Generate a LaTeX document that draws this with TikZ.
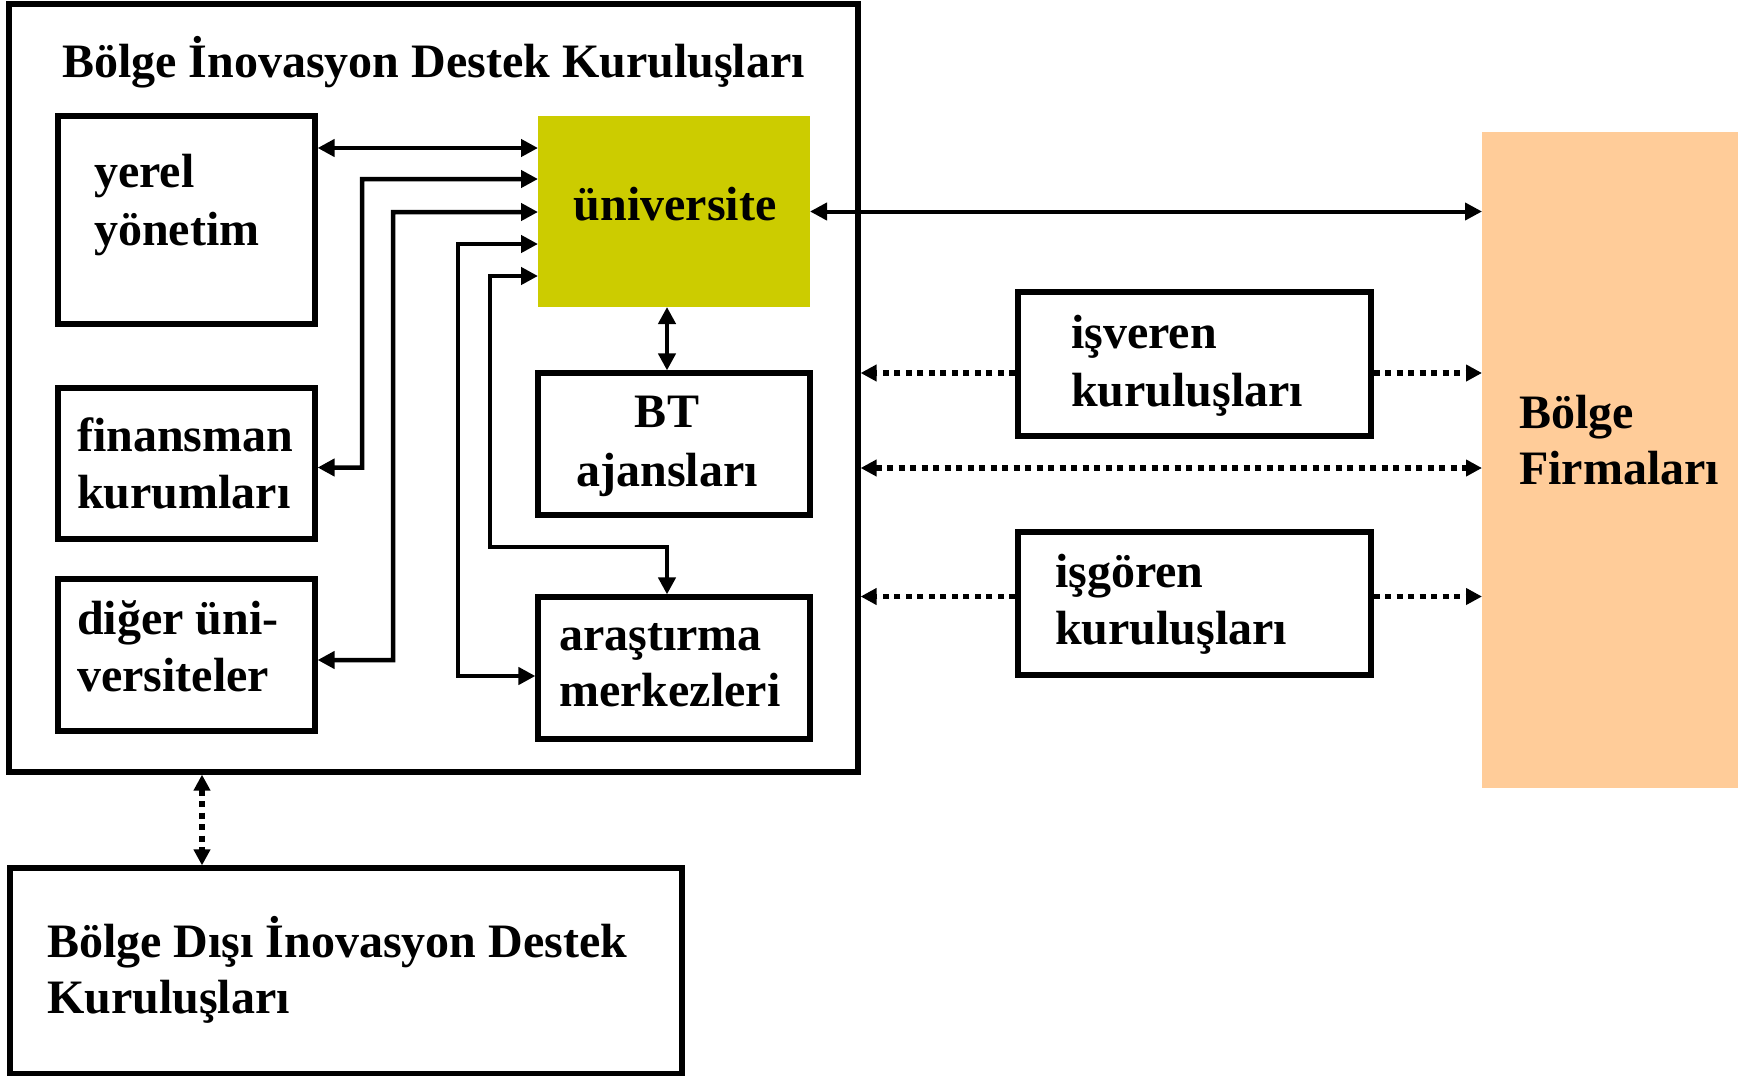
\documentclass[tikz,border=0pt]{standalone}
\usepackage{fontspec}
\setmainfont{Liberation Serif}
\usetikzlibrary{arrows.meta,calc}
\definecolor{unigreen}{HTML}{CCCC00}
\definecolor{firmorange}{HTML}{FFCC99}
\begin{document}
\begin{tikzpicture}[x=1bp,y=-1bp,
  box/.style={draw, line width=5.2bp, inner sep=0pt},
  fillbox/.style={inner sep=0pt, outer sep=0pt},
  txt/.style={font=\fontsize{48bp}{57.6bp}\selectfont\bfseries, inner sep=0pt, anchor=base west},
  conn/.style={line width=4.5bp, {Triangle[length=17bp,width=17bp]}-{Triangle[length=17bp,width=17bp]}},
  dots/.style={line width=5.5bp, dash pattern=on 6bp off 5.5bp},
  dotboth/.style={dots, {Triangle[length=16bp,width=16bp]}-{Triangle[length=16bp,width=16bp]}},
  dotto/.style={dots, -{Triangle[length=16bp,width=16bp]}}]
\useasboundingbox (0,0) rectangle (1742,1075);

% regional firms
\node[fillbox, fill=firmorange, minimum width=256bp, minimum height=656bp] (firma) at (1610,460) {};

% regional innovation support institutions
\node[box, minimum width=849bp, minimum height=768bp] (outer) at (433.5,388) {};
\node[box, minimum width=257bp, minimum height=208bp] (yerel) at (186.5,220) {};
\node[box, minimum width=257bp, minimum height=151bp] (fin) at (186.5,463.5) {};
\node[box, minimum width=257bp, minimum height=152bp] (diger) at (186.5,655) {};
\node[fillbox, fill=unigreen, minimum width=272bp, minimum height=191bp] (uni) at (674,211.5) {};
\node[box, minimum width=272bp, minimum height=142bp] (bt) at (674,444) {};
\node[box, minimum width=272bp, minimum height=142bp] (ars) at (674,668) {};

% employer / employee organisations
\node[box, minimum width=353bp, minimum height=144bp] (isv) at (1194.5,364) {};
\node[box, minimum width=353bp, minimum height=143bp] (isg) at (1194.5,603.5) {};

% external support institutions
\node[box, minimum width=672bp, minimum height=206bp] (disi) at (346,971) {};

% labels
\node[txt] (title) at (62,77) {Bölge İnovasyon Destek Kuruluşları};
\node[txt] (yerel1) at (94,187) {yerel};
\node[txt] (yerel2) at (94,245) {yönetim};
\node[txt] (fin1) at (77,451) {finansman};
\node[txt] (fin2) at (77,508) {kurumları};
\node[txt] (dig1) at (77,634) {diğer üni-};
\node[txt] (dig2) at (77,691) {versiteler};
\node[txt, anchor=base] (uni1) at (675,220) {üniversite};
\node[txt, anchor=base] (bt1) at (667,427) {BT};
\node[txt, anchor=base] (bt2) at (667,486) {ajansları};
\node[txt] (ars1) at (559,650) {araştırma};
\node[txt] (ars2) at (559,706) {merkezleri};
\node[txt] (isv1) at (1071,348) {işveren};
\node[txt] (isv2) at (1071,406) {kuruluşları};
\node[txt] (isg1) at (1055,587) {işgören};
\node[txt] (isg2) at (1055,644) {kuruluşları};
\node[txt] (fir1) at (1519,428) {Bölge};
\node[txt] (fir2) at (1519,484) {Firmaları};
\node[txt] (dis1) at (47,957) {Bölge Dışı İnovasyon Destek};
\node[txt] (dis2) at (47,1013) {Kuruluşları};

% attachment points on the university box
\coordinate (u1) at ($(uni.north west)+(0,32)$);
\coordinate (u2) at ($(uni.north west)+(0,63)$);
\coordinate (u3) at ($(uni.north west)+(0,96)$);
\coordinate (u4) at ($(uni.north west)+(0,128)$);
\coordinate (u5) at ($(uni.north west)+(0,160)$);
\coordinate (f1) at ($(fin.east)+(0,4)$);
\coordinate (d1) at ($(diger.east)+(0,5)$);
\coordinate (a1) at ($(ars.west)+(0,8)$);
\coordinate (a2) at ($(ars.north)+(-7,0)$);
\coordinate (us) at ($(uni.south)+(-7,0)$);
\coordinate (bn) at ($(bt.north)+(-7,0)$);

% links inside the regional system
\draw[conn] (yerel.east |- u1) -- (u1);
\draw[conn] (f1) -| (362,179) -- (u2);
\draw[conn] (d1) -| (393,212) -- (u3);
\draw[conn] (u4) -| (458,676) -- (a1);
\draw[conn] (u5) -| (490,547) -| (a2);
\draw[conn] (us) -- (bn);

% university <-> firms
\draw[conn, line width=4bp] (uni.east) -- (uni.east -| firma.west);

% dotted links
\coordinate (isvL) at ($(isv.west)+(0,9)$);
\coordinate (isvR) at ($(isv.east)+(0,9)$);
\coordinate (isgL) at ($(isg.west)+(0,-7)$);
\coordinate (isgR) at ($(isg.east)+(0,-7)$);
\coordinate (mid) at (1170,468);
\coordinate (vert) at (202,820);
\draw[dotto] (isvL) -- (isvL -| outer.east);
\draw[dotto] (isvR) -- (isvR -| firma.west);
\draw[dotboth] (mid -| outer.east) -- (mid -| firma.west);
\draw[dotto] (isgL) -- (isgL -| outer.east);
\draw[dotto] (isgR) -- (isgR -| firma.west);
\draw[dotboth] (vert |- outer.south) -- (vert |- disi.north);
\end{tikzpicture}
\end{document}
